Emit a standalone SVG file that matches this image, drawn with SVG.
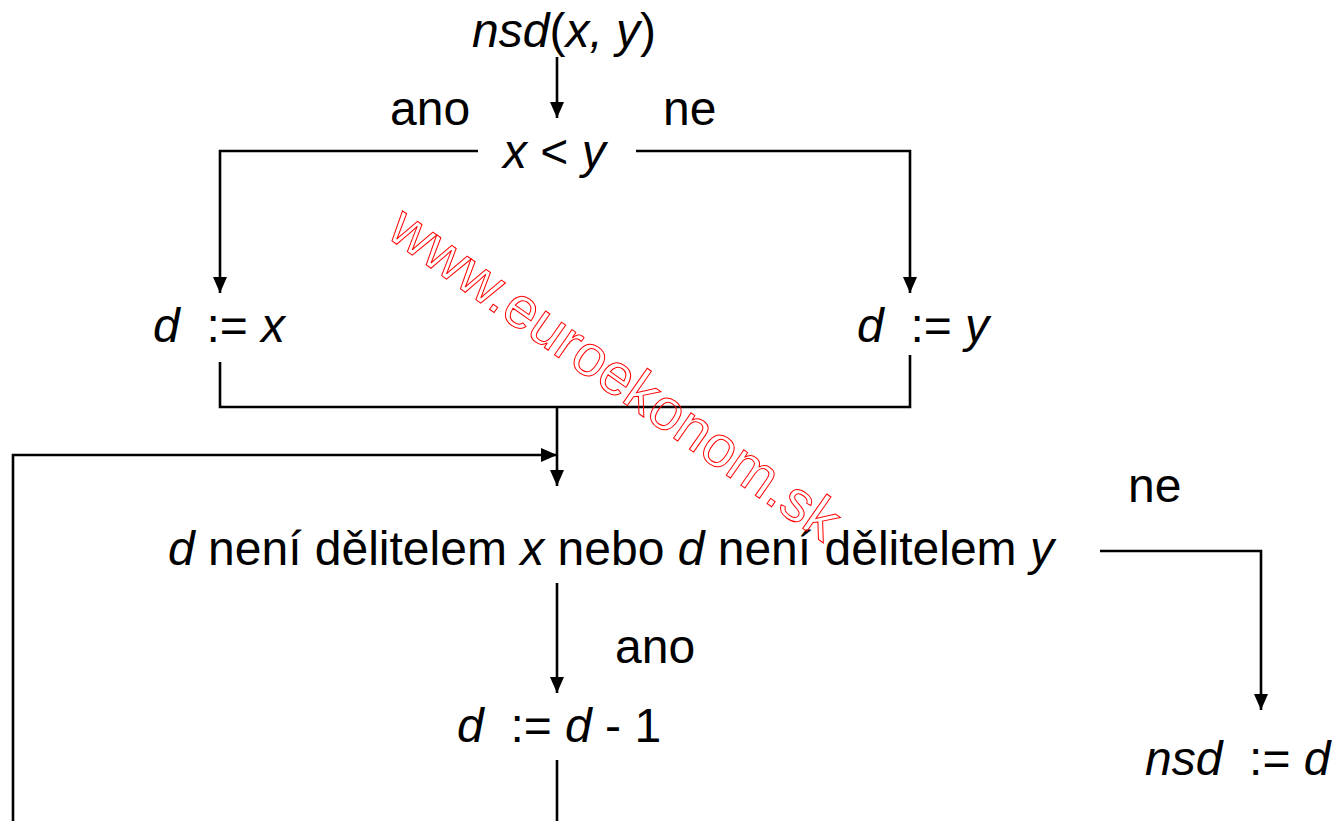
<svg xmlns="http://www.w3.org/2000/svg" width="1337" height="821" viewBox="0 0 1337 821">
<style>
text{font-family:"Liberation Sans",Arial,sans-serif;font-size:48px;fill:#000}
.i{font-style:italic}
.ln{fill:none;stroke:#000;stroke-width:2.6}
.wm{font-family:"Liberation Sans",Arial,sans-serif;font-size:58px;fill:none;stroke:#f00;stroke-width:1}
</style>
<defs>
<marker id="ah" viewBox="0 0 16 14" refX="16" refY="7" markerWidth="16" markerHeight="14" markerUnits="userSpaceOnUse" orient="auto">
<path d="M0,0 L16,7 L0,14 Z" fill="#000"/>
</marker>
</defs>
<rect width="1337" height="821" fill="#fff"/>
<g id="connectors">
<path class="ln" d="M557,57 V118" marker-end="url(#ah)"/>
<path class="ln" d="M478,151 H220 V293" marker-end="url(#ah)"/>
<path class="ln" d="M636,151 H910 V293" marker-end="url(#ah)"/>
<path class="ln" d="M220,362 V407 H910 V355"/>
<path class="ln" d="M557,407 V486" marker-end="url(#ah)"/>
<path class="ln" d="M13,821 V455 H557" marker-end="url(#ah)"/>
<path class="ln" d="M557,583 V693" marker-end="url(#ah)"/>
<path class="ln" d="M557,760 V821"/>
<path class="ln" d="M1100,551 H1261 V710" marker-end="url(#ah)"/>
</g>
<g id="start"><text x="472" y="47"><tspan class="i">nsd</tspan>(<tspan class="i">x, y</tspan>)</text></g>
<g id="cond1"><text x="503" y="168"><tspan class="i">x</tspan> &lt; <tspan class="i">y</tspan></text></g>
<g id="lbl-ano1"><text x="390" y="125">ano</text></g>
<g id="lbl-ne1"><text x="663" y="125">ne</text></g>
<g id="assign-x"><text x="153" y="342" xml:space="preserve"><tspan class="i">d</tspan>  := <tspan class="i">x</tspan></text></g>
<g id="assign-y"><text x="857" y="342" xml:space="preserve"><tspan class="i">d</tspan>  := <tspan class="i">y</tspan></text></g>
<g id="cond2"><text x="168" y="565"><tspan class="i">d</tspan> není dělitelem <tspan class="i">x</tspan> nebo <tspan class="i">d</tspan> není dělitelem <tspan class="i">y</tspan></text></g>
<g id="lbl-ne2"><text x="1128" y="502">ne</text></g>
<g id="lbl-ano2"><text x="615" y="663">ano</text></g>
<g id="decrement"><text x="457" y="742" xml:space="preserve"><tspan class="i">d</tspan>  := <tspan class="i">d</tspan> - 1</text></g>
<g id="result"><text x="1145" y="775" xml:space="preserve"><tspan class="i">nsd</tspan>  := <tspan class="i">d</tspan></text></g>
<text class="wm" x="385" y="236" transform="rotate(35 385 236)">www.euroekonom.sk</text>
</svg>
